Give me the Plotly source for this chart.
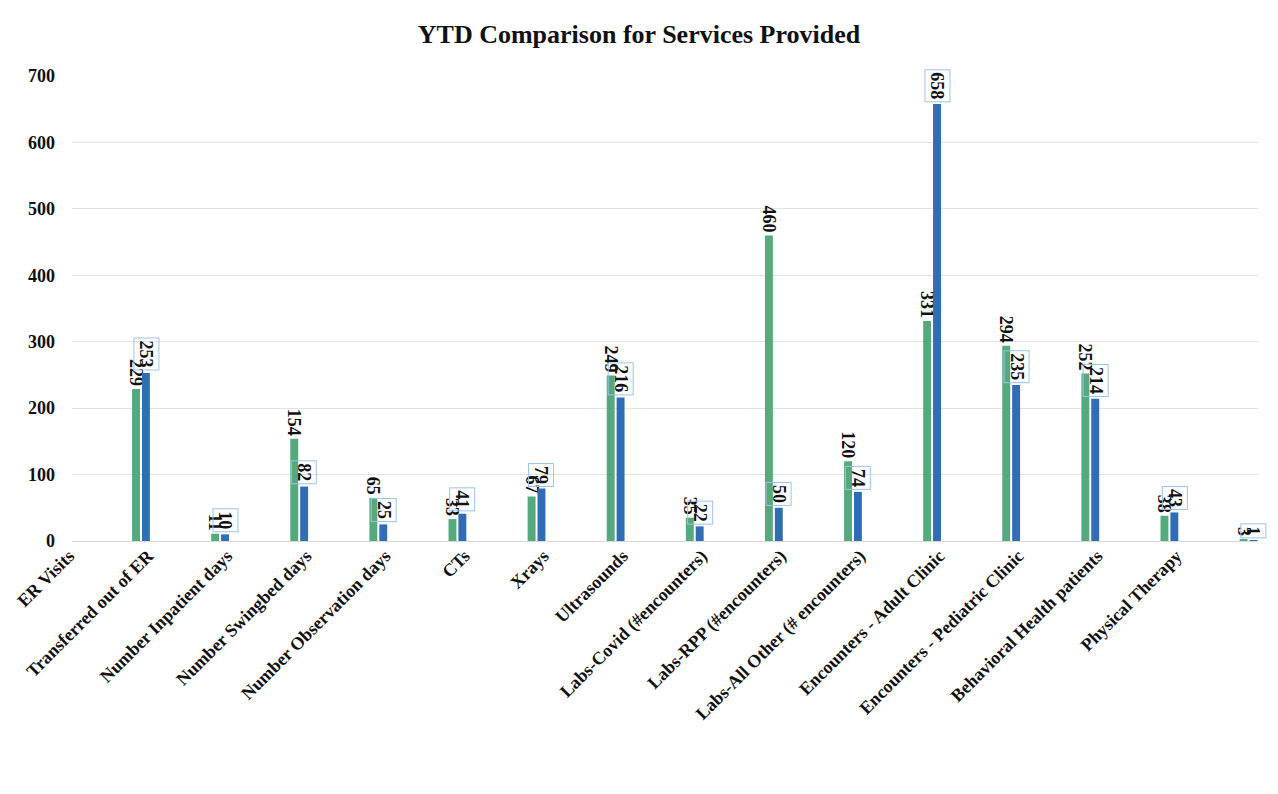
import plotly.graph_objects as go

categories = [
    "ER Visits", "Transferred out of ER", "Number Inpatient days",
    "Number Swingbed days", "Number Observation days", "CTs", "Xrays",
    "Ultrasounds", "Labs-Covid (#encounters)", "Labs-RPP (#encounters)",
    "Labs-All Other (# encounters)", "Encounters - Adult Clinic",
    "Encounters - Pediatric Clinic", "Behavioral Health patients",
    "Physical Therapy",
]
prior_ytd = [229, 11, 154, 65, 33, 67, 249, 35, 460, 120, 331, 294, 252, 38, 3]
current_ytd = [253, 10, 82, 25, 41, 79, 216, 22, 50, 74, 658, 235, 214, 43, 1]
y_ticks = [0, 100, 200, 300, 400, 500, 600, 700]

GREEN = "#55a97c"
BLUE = "#2f6db5"
SERIF = "Liberation Serif"

fig = go.Figure()
fig.add_trace(go.Bar(
    name="Prior YTD", x=categories, y=prior_ytd,
    marker=dict(color=GREEN, line=dict(width=0)),
    text=[f"<b>{v}</b>" for v in prior_ytd], textposition="outside", textangle=90,
    constraintext="none", cliponaxis=False,
    textfont=dict(family=SERIF, size=18, color="#111111"),
))
fig.add_trace(go.Bar(
    name="Current YTD", x=categories, y=current_ytd,
    marker=dict(color=BLUE, line=dict(width=0)),
    cliponaxis=False,
))

for c, v in zip(categories, current_ytd):
    fig.add_annotation(
        x=c, y=v, xref="x", yref="y", text=f"<b>{v}</b>", showarrow=False,
        textangle=90, xanchor="center", yanchor="bottom", xshift=5, yshift=2,
        font=dict(family=SERIF, size=18, color="#111111"),
        bordercolor="#9cc3e8", borderwidth=1, borderpad=2,
        bgcolor="rgba(255,255,255,0)",
    )

fig.update_layout(
    width=1278, height=794,
    paper_bgcolor="white", plot_bgcolor="white",
    barmode="group", bargap=0.75, bargroupgap=0.2,
    showlegend=False,
    margin=dict(l=72, r=20, t=76, b=253),
    title=dict(
        text="<b>YTD Comparison for Services Provided</b>",
        x=0.5, xanchor="center", y=1 - 34 / 794, yanchor="middle",
        font=dict(family=SERIF, size=26, color="#111111"),
    ),
    font=dict(family=SERIF, color="#111111"),
)
fig.update_xaxes(
    type="category", range=[-0.872, 14.12], tickangle=-45,
    tickvals=categories, ticktext=[f"<b>{c}</b>" for c in categories],
    tickfont=dict(family=SERIF, size=18, color="#111111"),
    showgrid=False, showline=False, ticks="", ticklabelshift=-72,
)
fig.update_yaxes(
    range=[0, 700], tickvals=y_ticks, ticktext=[f"<b>{t}</b>" for t in y_ticks],
    tickfont=dict(family=SERIF, size=18, color="#111111"),
    showgrid=True, gridcolor="#e3e3e3", gridwidth=1,
    zeroline=True, zerolinecolor="#d8d8d8", zerolinewidth=1,
    showline=False, ticks="", ticklabelstandoff=16,
)

fig.write_html("out.html")
